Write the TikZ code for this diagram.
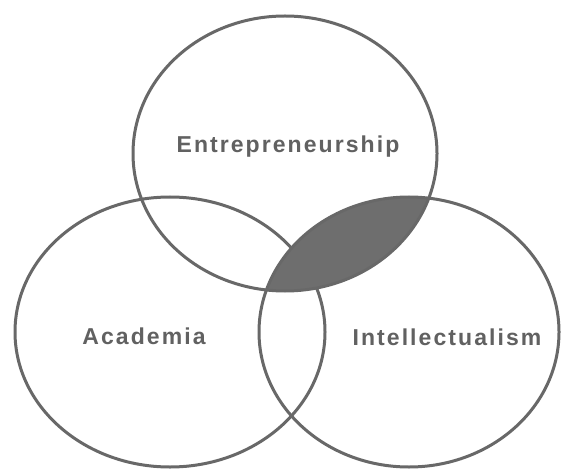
\documentclass[tikz,border=0pt]{standalone}
\usepackage{fontspec}
\newfontfamily\labelfont{Liberation Sans}[LetterSpace=9]
\begin{document}
\begin{tikzpicture}[x=1pt,y=-1pt,
  ring/.style={draw=ringgray,line width=3pt},
  setlabel/.style={text=labelgray,font=\labelfont\bfseries\fontsize{23}{27}\selectfont,anchor=base,inner sep=0pt}]
\definecolor{ringgray}{HTML}{686868}
\definecolor{labelgray}{HTML}{616161}
\definecolor{shadegray}{HTML}{6E6E6E}
\useasboundingbox (0,0) rectangle (561,470);
\fill[white] (0,0) rectangle (561,470);
% centres of the three sets
\coordinate (ce) at (285,153.5);
\coordinate (ca) at (170,332);
\coordinate (ci) at (409,332);
\draw[ring] (ca) ellipse [x radius=155, y radius=135];
% shaded lens: entrepreneurship and intellectualism
\begin{scope}
  \clip (ce) ellipse [x radius=152, y radius=137.5];
  \fill[shadegray] (ci) ellipse [x radius=150, y radius=135];
\end{scope}
\draw[ring] (ce) ellipse [x radius=152, y radius=137.5];
\draw[ring] (ci) ellipse [x radius=150, y radius=135];
\node[setlabel] (ent) at (288,153) {Entrepreneurship};
\node[setlabel] (aca) at (144,344) {Academia};
\node[setlabel] (int) at (447,345) {Intellectualism};
\end{tikzpicture}
\end{document}
